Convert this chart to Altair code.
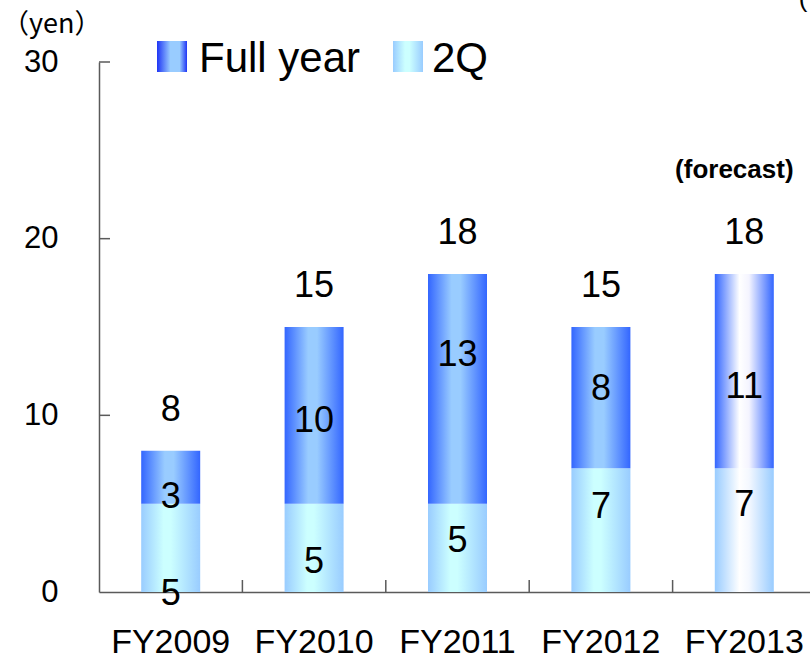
import altair as alt
import pandas as pd

# ---- values -------------------------------------------------------------
years = ["FY2009", "FY2010", "FY2011", "FY2012", "FY2013"]
dividend_2q = [5, 5, 5, 7, 7]          # interim (2Q) dividend, yen
dividend_full = [8, 15, 18, 15, 18]    # full-year dividend, yen
is_forecast = [False, False, False, False, True]
y_ticks = [0, 10, 20, 30]

# ---- layout helpers (pixels) -------------------------------------------
PLOT_W, PLOT_H = 711, 530
Y_MAX = 30
BAND_SPAN = 717                      # category band spans a bit past the right edge
BAR_W = 59
FONT = "Liberation Sans"
AXIS_GRAY = "#5a5a5a"
# hand-placed vertical nudges of the in-bar labels (px, + is down)
nudge_2q = [46, 14, -7, -23, -25]
nudge_h2 = [20, 6, -34, -9, 16]
PX_TO_YEN = Y_MAX / PLOT_H

df = pd.DataFrame({
    "year": years,
    "q2": dividend_2q,
    "full": dividend_full,
    "forecast": is_forecast,
})
df["h2"] = df["full"] - df["q2"]

labels = pd.concat([
    pd.DataFrame({"year": years, "lab": df["q2"].astype(str),
                  "pos": df["q2"] / 2 - pd.Series(nudge_2q) * PX_TO_YEN}),
    pd.DataFrame({"year": years, "lab": df["h2"].astype(str),
                  "pos": (df["q2"] + df["full"]) / 2 - pd.Series(nudge_h2) * PX_TO_YEN}),
], ignore_index=True)


def hgrad(stops):
    return alt.Gradient(
        gradient="linear", x1=0, x2=1, y1=0, y2=0,
        stops=[alt.GradientStop(offset=o, color=c) for o, c in stops],
    )


full_fill = hgrad([(0, "#3366ff"), (0.4, "#99ccff"), (0.55, "#99ccff"), (1, "#3366ff")])
q2_fill = hgrad([(0, "#99ccff"), (0.38, "#ccffff"), (0.5, "#ccffff"), (1, "#99ccff")])
full_fc_fill = hgrad([(0, "#3366ff"), (0.42, "#ffffff"), (0.58, "#f4f4ff"), (1, "#3366ff")])
q2_fc_fill = hgrad([(0, "#99ccff"), (0.42, "#ffffff"), (0.58, "#f4f8ff"), (1, "#99ccff")])
legend_full_fill = hgrad([(0, "#1f35f5"), (0.45, "#99ccff"), (0.75, "#99ccff"), (1, "#1f35f5")])
legend_q2_fill = hgrad([(0, "#99ccff"), (0.4, "#ccffff"), (0.55, "#ccffff"), (1, "#99ccff")])

x_scale = alt.Scale(domain=years, range=[0, BAND_SPAN], paddingInner=0, paddingOuter=0)
y_scale = alt.Scale(domain=[0, Y_MAX], nice=False)

x_axis = alt.Axis(
    title=None, labelAngle=0, ticks=False, tickSize=0, labelPadding=33,
    labelFont=FONT, labelFontSize=34, labelColor="black",
    domainColor=AXIS_GRAY, domainWidth=1.5, grid=False,
)
y_axis = alt.Axis(
    title=None, values=y_ticks, ticks=False, tickSize=0, labelPadding=41,
    labelFont=FONT, labelFontSize=31, labelColor="black",
    domainColor=AXIS_GRAY, domainWidth=1.5, grid=False,
)

X = alt.X("year:N", scale=x_scale, axis=x_axis)

base = alt.Chart(df)

bars_2q = base.transform_filter("!datum.forecast").mark_bar(width=BAR_W, fill=q2_fill).encode(
    x=X, y=alt.Y("q2:Q", scale=y_scale, axis=y_axis))
bars_2q_fc = base.transform_filter("datum.forecast").mark_bar(width=BAR_W, fill=q2_fc_fill).encode(
    x=X, y=alt.Y("q2:Q", scale=y_scale, axis=y_axis))
bars_full = base.transform_filter("!datum.forecast").mark_bar(width=BAR_W, fill=full_fill).encode(
    x=X, y=alt.Y("q2:Q", scale=y_scale, axis=y_axis), y2="full:Q")
bars_full_fc = base.transform_filter("datum.forecast").mark_bar(width=BAR_W, fill=full_fc_fill).encode(
    x=X, y=alt.Y("q2:Q", scale=y_scale, axis=y_axis), y2="full:Q")

seg_text = alt.Chart(labels).mark_text(
    font=FONT, fontSize=36, color="black", baseline="middle", align="center"
).encode(
    x=X,
    y=alt.Y("pos:Q", scale=y_scale, axis=y_axis),
    text="lab:N",
)

total_text = base.mark_text(
    font=FONT, fontSize=36, color="black", baseline="middle", align="center", dy=-41
).encode(
    x=X, y=alt.Y("full:Q", scale=y_scale, axis=y_axis), text="full:Q")

forecast_note = base.transform_filter("datum.forecast").mark_text(
    font=FONT, fontSize=26, fontWeight="bold", color="black",
    baseline="middle", align="center", dx=-10,
).encode(x=X, y=alt.value(108), text=alt.value("(forecast)"))

# inward tick marks on both axes
y_tick_marks = alt.Chart(pd.DataFrame({"v": y_ticks[1:]})).mark_rule(
    color=AXIS_GRAY, strokeWidth=1.5
).encode(y=alt.Y("v:Q", scale=y_scale, axis=y_axis), x=alt.value(0), x2=alt.value(11))

x_tick_marks = alt.Chart(pd.DataFrame({"year": years[1:]})).mark_rule(
    color=AXIS_GRAY, strokeWidth=1.5
).encode(
    x=alt.X("year:N", scale=x_scale, axis=x_axis, bandPosition=0),
    y=alt.value(PLOT_H - 12), y2=alt.value(PLOT_H),
)

# legend and unit caption above the plot
one = alt.Data(values=[{}])
leg_full_box = alt.Chart(one).mark_rect(fill=legend_full_fill).encode(
    x=alt.value(58), x2=alt.value(88), y=alt.value(-21), y2=alt.value(10))
leg_q2_box = alt.Chart(one).mark_rect(fill=legend_q2_fill).encode(
    x=alt.value(294), x2=alt.value(324), y=alt.value(-21), y2=alt.value(10))
leg_full_text = alt.Chart(one).mark_text(
    font=FONT, fontSize=42, color="black", align="left", baseline="alphabetic"
).encode(x=alt.value(100), y=alt.value(10), text=alt.value("Full year"))
leg_q2_text = alt.Chart(one).mark_text(
    font=FONT, fontSize=42, color="black", align="left", baseline="alphabetic"
).encode(x=alt.value(333), y=alt.value(10), text=alt.value("2Q"))
unit_text = alt.Chart(one).mark_text(
    font="Noto Sans CJK JP", fontSize=27, color="black", align="left", baseline="alphabetic"
).encode(x=alt.value(-97), y=alt.value(-29), text=alt.value("（yen）"))
corner_paren = alt.Chart(one).mark_text(
    font=FONT, fontSize=26, color="black", align="center", baseline="alphabetic"
).encode(x=alt.value(704), y=alt.value(-55), text=alt.value("("))

chart = alt.layer(
    bars_2q, bars_2q_fc, bars_full, bars_full_fc,
    y_tick_marks, x_tick_marks,
    seg_text, total_text, forecast_note,
    leg_full_box, leg_q2_box, leg_full_text, leg_q2_text, unit_text, corner_paren,
).properties(
    width=PLOT_W, height=PLOT_H,
    autosize=alt.AutoSizeParams(type="none"),
    padding={"left": 99, "top": 62, "right": 0, "bottom": 68},
    background="white",
).configure_view(stroke=None)

chart.save("out.html", embed_options={"renderer": "svg", "actions": False})
